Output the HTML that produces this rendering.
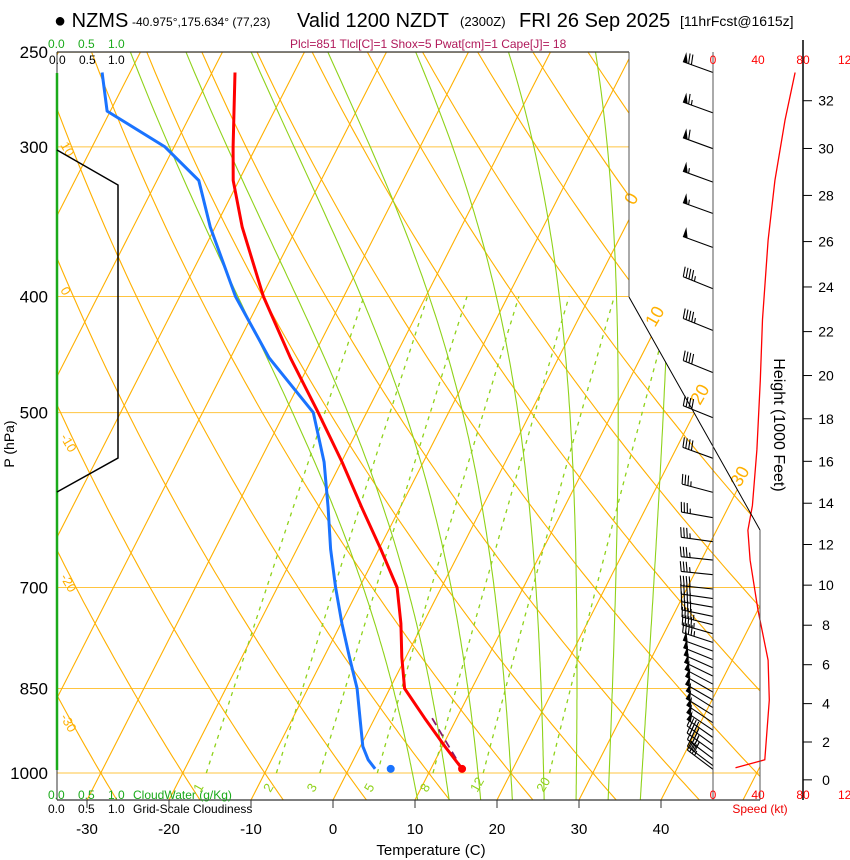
<!DOCTYPE html>
<html><head><meta charset="utf-8">
<style>
body{margin:0;background:#fff;}
svg{display:block;font-family:"Liberation Sans",sans-serif;}
</style></head>
<body>
<svg id="c" width="850" height="860" viewBox="0 0 850 860" xmlns="http://www.w3.org/2000/svg">
<defs><clipPath id="clip"><polygon points="57,52 629,52 629,297 760,530 760,800 57,800"/></clipPath></defs>
<g id="bg" clip-path="url(#clip)"></g>
<g id="fg"></g>
<line x1="57" y1="52" x2="629" y2="52" stroke="#333" stroke-width="1.2"/>
<line x1="629" y1="52" x2="629" y2="297" stroke="#555" stroke-width="1"/>
<line x1="629" y1="297" x2="760" y2="530" stroke="#000" stroke-width="1"/>
<line x1="760" y1="530" x2="760" y2="800" stroke="#555" stroke-width="1"/>
<line x1="57" y1="800" x2="760" y2="800" stroke="#333" stroke-width="1.2"/>
<line x1="57" y1="52" x2="57" y2="800" stroke="#333" stroke-width="1"/>
<line x1="57" y1="73" x2="57" y2="770" stroke="#1aaa1a" stroke-width="2.5"/>
<line x1="713" y1="52" x2="713" y2="800" stroke="#555" stroke-width="1"/>
<line x1="803" y1="40" x2="803" y2="800" stroke="#000" stroke-width="1.5"/>
<polyline points="57,150 118,185 118,458 57,492" fill="none" stroke="#000" stroke-width="1.5"/>
<text x="54" y="27" font-size="20">● NZMS</text>
<text x="132" y="26" font-size="12">-40.975°,175.634° (77,23)</text>
<text x="297" y="27" font-size="20">Valid 1200 NZDT</text>
<text x="460" y="26" font-size="13">(2300Z)</text>
<text x="519" y="27" font-size="20">FRI 26 Sep 2025</text>
<text x="680" y="26" font-size="14">[11hrFcst@1615z]</text>
<text x="290" y="48" font-size="12" fill="#b0195a">Plcl=851 Tlcl[C]=1 Shox=5 Pwat[cm]=1 Cape[J]= 18</text>
<g font-size="12" fill="#1aaa1a">
<text x="48" y="48">0.0</text><text x="78" y="48">0.5</text><text x="108" y="48">1.0</text></g>
<g font-size="12" fill="#000">
<text x="49" y="64">0.0</text><text x="79" y="64">0.5</text><text x="108" y="64">1.0</text></g>
<g font-size="12" fill="#1aaa1a">
<text x="48" y="799">0.0</text><text x="78" y="799">0.5</text><text x="108" y="799">1.0</text><text x="133" y="799">CloudWater (g/Kg)</text></g>
<g font-size="12" fill="#000">
<text x="48" y="813">0.0</text><text x="78" y="813">0.5</text><text x="108" y="813">1.0</text><text x="133" y="813">Grid-Scale Cloudiness</text></g>
<text x="10" y="440" font-size="14" transform="rotate(-90 14 440)" text-anchor="middle">P (hPa)</text>
<text x="431" y="855" font-size="15" text-anchor="middle">Temperature (C)</text>
<text x="774" y="425" font-size="16" transform="rotate(90 774 425)" text-anchor="middle">Height (1000 Feet)</text>
<text x="760" y="813" font-size="12" fill="#e00" text-anchor="middle">Speed (kt)</text>
</svg>
<script>
const pLabels=[250,300,400,500,700,850,1000];
const isobars=[250,300,400,500,700,850,1000];
const tTicks=[-30,-20,-10,0,10,20,30,40];
const isotherms=[-110,-100,-90,-80,-70,-60,-50,-40,-30,-20,-10,0,10,20,30,40,50];
const dryAdiabats=[-40,-30,-20,-10,0,10,20,30,40,50,60,70,80,90,100,110,120,130,140,150,160];
const moistAdiabats=[8,12,16,20,24,28,32,36];
const mixRatios=[1,2,3,5,8,12,20];
const tempP=[260,300,320,350,400,450,500,550,600,650,700,750,800,850,900,950,992];
const tempT=[-57.2,-52.8,-50.7,-46.7,-39.8,-32.7,-25.9,-19.9,-14.7,-9.8,-5.4,-2.7,-0.5,1.8,6.1,10.3,13.8];
const dewP=[260,280,300,320,350,400,450,500,550,600,650,700,750,800,850,900,950,975,992];
const dewT=[-73.4,-70.4,-61.1,-54.9,-50.6,-43.2,-35.3,-26.5,-22.1,-18.8,-15.9,-12.9,-9.9,-6.9,-4.0,-1.8,0.3,1.8,3.2];
const parcelP=[900,992];
const parcelT=[7.0,13.8];
const sfcDew=[5.1];
const spdP=[260,285,320,359,418,470,537,598,627,664,731,805,869,975,990];
const spdV=[73,64,55,49,44,42,39,35,31,33,40,49,50,46,20];
const barbP=[260,281,301,321,341,364,394,427,463,505,546,583,612,641,664,683,702,715,727,740,752,765,778,791,804,817,830,843,856,869,882,895,908,921,934,947,960,973,986,993];
const barbS=[70,65,61,57,54,48,45,44,42,40,39,36,33,33,34,36,38,40,41,42,44,45,46,48,50,50,51,51,52,52,51,50,50,49,48,47,46,45,40,35];
const barbD=[290,290,290,290,290,290,292,292,292,292,290,285,280,278,276,276,276,278,280,282,284,286,288,290,292,294,296,298,300,300,302,302,304,304,305,306,306,307,307,307];
const hTicks=[0,2,4,6,8,10,12,14,16,18,20,22,24,26,28,30,32];
const spdTicks=[0,40,80,120];

const NS='http://www.w3.org/2000/svg';
const svg=document.getElementById('c');
const bg=document.getElementById('bg');
const fg=document.getElementById('fg');
function Y(p){return 773+520*Math.log(p/1000);}
function X(T,p){return 333+8.2*T+0.51*(800-Y(p));}
function SX(v){return 713+1.125*v;}
function mk(tag,attrs,parent){const e=document.createElementNS(NS,tag);for(const k in attrs)e.setAttribute(k,attrs[k]);(parent||svg).appendChild(e);return e;}
function pathFrom(pts){return pts.map((q,i)=>(i?'L':'M')+q[0].toFixed(1)+','+q[1].toFixed(1)).join('');}
const pTop=240,pBot=1060;

isobars.forEach(p=>{const l=mk('line',{x1:57,x2:760,y1:Y(p),y2:Y(p),stroke:'#ffc440','stroke-width':1},bg);

});
isotherms.forEach(T=>{const l=mk('line',{x1:X(T,pBot),y1:Y(pBot),x2:X(T,pTop),y2:Y(pTop),stroke:'#ffb000','stroke-width':1.1},bg);

});
dryAdiabats.forEach(th=>{const pts=[];for(let p=pBot;p>=pTop;p-=10){const T=(th+273.15)*Math.pow(p/1000,0.286)-273.15;pts.push([X(T,p),Y(p)]);}
const l=mk('path',{d:pathFrom(pts),fill:'none',stroke:'#ffb000','stroke-width':1.1},bg);

});
function es(T){return 6.112*Math.exp(17.67*T/(T+243.5));}
function dTdp(T,p){const Tk=T+273.15,e=es(T),rs=0.622*e/(p-e);return (287*Tk+2.5e6*rs)/(p*(1005+2.5e6*2.5e6*rs*0.622/(287*Tk*Tk)));}
moistAdiabats.forEach(tw=>{let pts=[];let T=tw;for(let p=1000;p<=pBot;p+=5){pts.unshift([X(T,p),Y(p)]);T+=dTdp(T,p)*5;}
T=tw;for(let p=1000;p>=pTop;p-=5){pts.push([X(T,p),Y(p)]);T-=dTdp(T,p)*5;}
const l=mk('path',{d:pathFrom(pts),fill:'none',stroke:'#8fd21a','stroke-width':1.1},bg);

});
function tdFromW(w,p){const e=w/1000*p/(0.622+w/1000);const L=Math.log(e/6.112);return 243.5*L/(17.67-L);}
mixRatios.forEach(w=>{const pts=[];for(let p=1000;p>=400;p-=10)pts.push([X(tdFromW(w,p),p),Y(p)]);
const l=mk('path',{d:pathFrom(pts),fill:'none',stroke:'#8fd21a','stroke-width':1.3,'stroke-dasharray':'4,5'},bg);


const x=X(tdFromW(w,1000),1000)-6;
const t=mk('text',{x:x,y:793,'font-size':13,fill:'#8fd21a',transform:'rotate(-60 '+x+' 793)'},fg);t.textContent=w;

});
[[10,145],[0,290],[-10,437],[-20,577],[-30,717]].forEach(a=>{const t=mk('text',{x:60,y:a[1],'font-size':13,fill:'#ffb000',transform:'rotate(60 60 '+a[1]+')'},fg);t.textContent=a[0];

});
[[0,634,206],[10,655,328],[20,700,406],[30,740,488]].forEach(a=>{const t=mk('text',{x:a[1],y:a[2],'font-size':18,fill:'#ffb000',transform:'rotate(-60 '+a[1]+' '+a[2]+')'},fg);t.textContent=a[0];

});
function prof(P,Tv,col,w,name,dash){const pts=P.map((p,i)=>[X(Tv[i],p),Y(p)]);const a={d:pathFrom(pts),fill:'none',stroke:col,'stroke-width':w,'stroke-linejoin':'round'};if(dash)a['stroke-dasharray']=dash;const l=mk('path',a,fg);

}
prof(parcelP,parcelT,'#8a1a6a',1.8,'parcel-path','8,5');
prof(tempP,tempT,'#f00',3,'temperature-profile');
prof(dewP,dewT,'#1a73ff',3,'dewpoint-profile');
const d1=mk('circle',{cx:X(tempT[tempT.length-1],tempP[tempP.length-1]),cy:Y(992),r:4,fill:'#f00'},fg);


const d2=mk('circle',{cx:X(sfcDew[0],992),cy:Y(992),r:4,fill:'#1a73ff'},fg);


const sp=mk('path',{d:pathFrom(spdP.map((p,i)=>[SX(spdV[i]),Y(p)])),fill:'none',stroke:'#f00','stroke-width':1.3},fg);


barbP.forEach((p,i)=>{const y=Y(p),d=barbD[i]*Math.PI/180;const ux=Math.sin(d),uy=-Math.cos(d);const L=32;
const ex=713+ux*L,ey=y+uy*L;let s='M713,'+y.toFixed(1)+'L'+ex.toFixed(1)+','+ey.toFixed(1);
let px=ux<0?-uy:uy, py=ux<0?ux:-ux; if(py>0){px=-px;py=-py;}
let spd=Math.round(barbS[i]/5)*5,pos=0;const g=mk('g',{},fg);


let tri='';
while(spd>=50){const bx=ex-ux*pos,by=ey-uy*pos;tri+='M'+bx+','+by+'L'+(bx+px*10)+','+(by+py*10)+'L'+(bx-ux*5)+','+(by-uy*5)+'Z';pos+=6;spd-=50;}
while(spd>=10){const bx=ex-ux*pos,by=ey-uy*pos;s+='M'+bx.toFixed(1)+','+by.toFixed(1)+'l'+(px*10+ux*2).toFixed(1)+','+(py*10+uy*2).toFixed(1);pos+=3;spd-=10;}
if(spd>=5){const bx=ex-ux*pos,by=ey-uy*pos;s+='M'+bx.toFixed(1)+','+by.toFixed(1)+'l'+(px*5+ux).toFixed(1)+','+(py*5+uy).toFixed(1);}
mk('path',{d:s,stroke:'#000','stroke-width':1.1,fill:'none'},g);
if(tri)mk('path',{d:tri,fill:'#000'},g);});
pLabels.forEach(p=>{const t=mk('text',{x:48,y:Y(p)+6,'font-size':17,'text-anchor':'end'});t.textContent=p;

});
tTicks.forEach(T=>{const x=333+8.2*T;const l=mk('line',{x1:x,x2:x,y1:800,y2:808,stroke:'#333'});


const t=mk('text',{x:x,y:834,'font-size':15,'text-anchor':'middle'});t.textContent=T;

});
hTicks.forEach(h=>{const m=h*304.8;const p=1013.25*Math.pow(1-2.25577e-5*m,5.2559);const y=Y(p);
const l=mk('line',{x1:803,x2:812,y1:y,y2:y,stroke:'#000'});


const t=mk('text',{x:826,y:y+5,'font-size':14,'text-anchor':'middle'});t.textContent=h;

});
spdTicks.forEach(v=>{[64,799].forEach(yy=>{const t=mk('text',{x:SX(v),y:yy,'font-size':12,fill:'#f00','text-anchor':'middle'});t.textContent=v;

});});
</script>
</body></html>
